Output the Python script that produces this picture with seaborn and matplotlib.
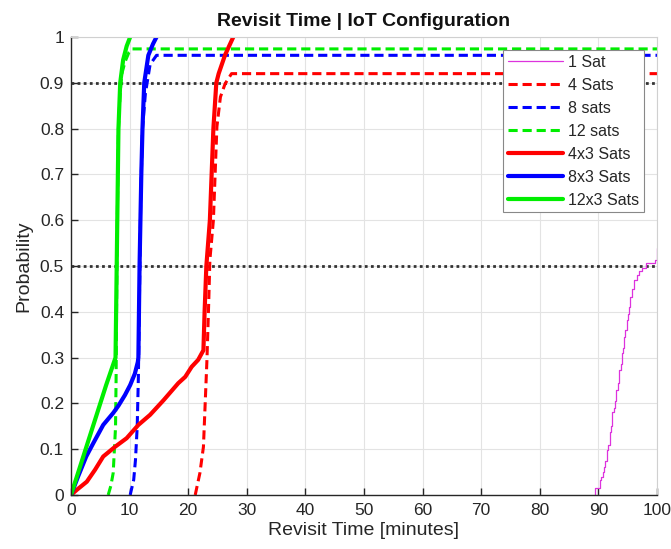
import matplotlib
matplotlib.use("Agg")
import matplotlib.pyplot as plt
import seaborn as sns
import pandas as pd

# ---- data ----
sat1_x = [89.5, 89.5, 90.2, 90.5, 90.8, 91.0, 91.2, 91.4, 91.6, 91.9, 92.1, 92.4, 92.6, 92.8,
          93.0, 93.3, 93.6, 93.8, 94.0, 94.2, 94.4, 94.6, 94.8, 95.0, 95.2, 95.4, 95.7,
          96.0, 96.6, 97.0, 97.4, 98.1, 99.7, 100.0]
sat1_y = [0.0, 0.015, 0.033, 0.04, 0.05, 0.062, 0.075, 0.098, 0.11, 0.138, 0.15, 0.182, 0.19,
          0.205, 0.23, 0.245, 0.273, 0.285, 0.309, 0.32, 0.346, 0.36, 0.382, 0.395, 0.41,
          0.433, 0.45, 0.469, 0.48, 0.488, 0.495, 0.507, 0.512, 0.539]

sats4_x = [21.2, 22.0, 22.6, 22.9, 23.2, 23.5, 23.7, 24.3, 24.6, 24.9, 25.5, 26.3, 27.4, 100]
sats4_y = [0, 0.048, 0.105, 0.2, 0.295, 0.419, 0.513, 0.6, 0.702, 0.804, 0.869, 0.898, 0.92, 0.92]

sats8_x = [10.1, 10.7, 11.0, 11.3, 11.5, 11.7, 11.9, 12.2, 12.7, 13.5, 14.6, 100]
sats8_y = [0, 0.033, 0.076, 0.149, 0.258, 0.45, 0.65, 0.8, 0.877, 0.94, 0.96, 0.96]

sats12_x = [6.35, 6.8, 7.2, 7.6, 7.7, 7.8, 7.9, 8.1, 8.4, 8.7, 9.2, 9.9, 10.4, 100]
sats12_y = [0, 0.02, 0.048, 0.148, 0.258, 0.45, 0.6, 0.8, 0.88, 0.921, 0.945, 0.967, 0.974, 0.974]

s4x3_x = [0, 0.97, 2.7, 4.1, 5.5, 7.5, 9.5, 11.5, 13.5, 15.8, 18.3, 19.5, 20.6, 21.7, 22.6,
          22.8, 23.1, 23.7, 24.0, 24.3, 24.8, 25.2, 26.3, 27.7]
s4x3_y = [0, 0.011, 0.029, 0.055, 0.084, 0.105, 0.124, 0.153, 0.175, 0.207, 0.244, 0.258, 0.28,
          0.295, 0.316, 0.40, 0.5, 0.6, 0.7, 0.8, 0.9, 0.92, 0.961, 1.0]

s8x3_x = [0, 1.2, 2.6, 3.8, 5.5, 7.2, 8.1, 9.2, 10.1, 10.9, 11.4, 11.5, 11.7, 12.0, 12.2, 12.5,
          13.2, 14.0, 14.6]
s8x3_y = [0, 0.04, 0.084, 0.113, 0.153, 0.179, 0.195, 0.218, 0.24, 0.265, 0.29, 0.30, 0.5, 0.7,
          0.8, 0.9, 0.96, 0.985, 1.0]

s12x3_x = [0, 2.0, 4.0, 6.0, 7.6, 7.8, 7.9, 8.1, 8.4, 8.9, 9.5, 10.1]
s12x3_y = [0, 0.08, 0.16, 0.24, 0.30, 0.5, 0.6, 0.8, 0.9, 0.95, 0.98, 1.0]

ref_levels = [0.9, 0.5]
x_ticks = list(range(0, 101, 10))
y_ticks = [i / 10 for i in range(11)]
y_tick_labels = ["0", "0.1", "0.2", "0.3", "0.4", "0.5", "0.6", "0.7", "0.8", "0.9", "1"]

# ---- figure ----
sns.set_theme(style="whitegrid")
plt.rcParams["font.family"] = ["Liberation Sans", "DejaVu Sans"]

fig = plt.figure(figsize=(6.71, 5.49), dpi=100)
ax = fig.add_axes([0.1058, 0.0984, 0.8733, 0.8342])

dash = (3.0, 1.6)
series = [
    ("1 Sat", sat1_x, sat1_y, "#dd33dd", 0.9, None),
    ("4 Sats", sats4_x, sats4_y, "#ff0000", 2.2, dash),
    ("8 sats", sats8_x, sats8_y, "#0000ff", 2.2, dash),
    ("12 sats", sats12_x, sats12_y, "#00ee00", 2.2, dash),
    ("4x3 Sats", s4x3_x, s4x3_y, "#ff0000", 3.0, None),
    ("8x3 Sats", s8x3_x, s8x3_y, "#0000ff", 3.0, None),
    ("12x3 Sats", s12x3_x, s12x3_y, "#00ee00", 3.0, None),
]

for name, xs, ys, col, lw, ds in series:
    df = pd.DataFrame({"x": xs, "y": ys})
    kw = {}
    if name == "1 Sat":
        kw["drawstyle"] = "steps-post"
    sns.lineplot(data=df, x="x", y="y", ax=ax, sort=False, estimator=None,
                 color=col, linewidth=lw, label=name, **kw)
    ln = ax.get_lines()[-1]
    if ds is not None:
        ln.set_dashes(ds)

for lv in ref_levels:
    ax.axhline(lv, color="#333333", linewidth=2.0, linestyle=(0, (1, 1.2)), zorder=1)

ax.set_xlim(0, 100)
ax.set_ylim(0, 1)
ax.set_xticks(x_ticks)
ax.set_yticks(y_ticks)
ax.set_yticklabels(y_tick_labels)
ax.grid(True, color="#e3e3e3", linewidth=0.8)
ax.set_facecolor("white")

for side in ["left", "bottom"]:
    ax.spines[side].set_color("#262626")
    ax.spines[side].set_linewidth(1.0)
for side in ["top", "right"]:
    ax.spines[side].set_color("#d0d0d0")
    ax.spines[side].set_linewidth(0.8)

ax.tick_params(axis="both", direction="in", length=5, width=1.0, colors="#262626",
               labelsize=12.5, labelcolor="#262626", bottom=True, left=True)
ax.tick_params(axis="x", pad=6)
ax.tick_params(axis="y", pad=5)

ax.set_xlabel("Revisit Time [minutes]", fontsize=14, color="#262626", labelpad=3)
ax.set_ylabel("Probability", fontsize=14, color="#262626", labelpad=5)
ax.set_title("Revisit Time | IoT Configuration", fontsize=14, fontweight="bold",
             color="#111111", pad=8)

leg = ax.legend(loc="upper right", bbox_to_anchor=(0.978, 0.972), borderaxespad=0,
                fontsize=11.5, frameon=True, fancybox=False, framealpha=1,
                edgecolor="#888888", handlelength=3.45, handletextpad=0.3,
                labelspacing=0.5, borderpad=0.3)
leg.get_frame().set_linewidth(0.8)
for t in leg.get_texts():
    t.set_color("#262626")

fig.savefig("out.png", dpi=100)
